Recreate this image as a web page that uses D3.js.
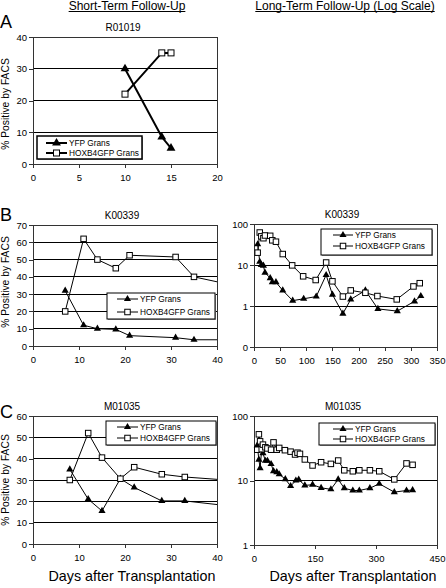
<!DOCTYPE html>
<html><head><meta charset="utf-8">
<script src="https://cdn.jsdelivr.net/npm/d3@7"></script>
<style>body{margin:0;background:#fff}svg{display:block}text{font-family:"Liberation Sans",Arial,sans-serif;font-style:normal;fill:#000}</style>
</head><body>
<svg id="c" width="446" height="588"></svg>
<script>
// ---- Data ----
const headers = ["Short-Term Follow-Up", "Long-Term Follow-Up (Log Scale)"];
const panelLetters = ["A", "B", "C"];
const animals = ["R01019", "K00339", "M01035"];
const seriesNames = ["YFP Grans", "HOXB4GFP Grans"];
const xAxisTitle = "Days after Transplantation";
const yAxisTitle = "% Positive by FACS";

// Panel A (short-term)
const aDays = [10, 14, 15];
const aYFP = [30, 8.5, 5];
const aHOX = [22, 35, 35];

// Panel B short-term
const bDays = [7, 11, 14, 18, 21, 31, 35, 42];
const bYFP = [32, 12, 10, 9.6, 6, 4.8, 3.6, 3.6];
const bHOX = [20, 62, 50, 45, 52.5, 51.5, 40, 36];

// Panel B long-term
const bLDays = [7, 11, 14, 18, 21, 31, 35, 42, 55, 74, 95, 119, 138, 150, 170, 185, 213, 237, 274, 307, 319];
const bLYFP = [32, 12, 10, 9.6, 6.5, 4.8, 3.8, 3.8, 2.4, 1.35, 1.5, 1.7, 5.7, 1.9, 0.65, 1.45, 2.4, 0.85, 0.75, 1.3, 1.75];
const bLHOXDays = [7, 11, 14, 18, 21, 31, 35, 42, 55, 73, 94, 118, 138, 150, 170, 185, 213, 236, 273, 305, 317];
const bLHOX = [20, 62, 50, 45, 52.5, 51.5, 40, 37, 18.5, 9.8, 5.3, 4.3, 11.5, 4, 1.7, 2.4, 2.1, 1.75, 1.45, 3.0, 3.6];

// Panel C short-term
const cDays = [8, 12, 15, 19, 22, 28, 33, 42];
const cYFP = [35, 21, 15.5, 30.6, 26.5, 20.2, 20.2, 18];
const cHOX = [30, 52, 40.5, 30.6, 36, 32.7, 31.4, 30];

// Panel C long-term
const cLYDays = [8, 12, 15, 19, 22, 28, 33, 42, 48, 56, 62, 77, 90, 103, 110, 125, 144, 165, 189, 207, 222, 243, 259, 285, 308, 345, 375, 390];
const cLYFP = [35, 21, 15.5, 30.6, 26.5, 20.2, 20.2, 18, 14, 13.5, 12.5, 10.5, 8.2, 10, 10.3, 8.4, 8.6, 7.7, 7.3, 10.4, 7.6, 7.0, 7.0, 7.6, 8.9, 6.6, 7.0, 7.1];
const cLHDays = [8, 12, 15, 19, 22, 28, 33, 42, 48, 56, 62, 76, 90, 101, 107, 113, 125, 144, 165, 189, 207, 222, 243, 259, 285, 308, 345, 375, 390];
const cLHOX = [30, 52, 40.5, 30.6, 36, 32.7, 31.4, 30, 39, 30, 32, 29.5, 28, 25.3, 27, 25.9, 21.2, 17.1, 19.2, 18.1, 20.4, 14.4, 13.9, 14.4, 14.4, 13.9, 10.4, 18.4, 17.5];

// Ticks
const xTicksA = [0, 5, 10, 15, 20];
const xTicksShort = [0, 10, 20, 30, 40];
const yTicksA = [0, 10, 20, 30, 40];
const yTicksB = [0, 10, 20, 30, 40, 50, 60, 70];
const yTicksC = [0, 10, 20, 30, 40, 50, 60];
const xTicksBL = [0, 50, 100, 150, 200, 250, 300, 350];
const yTicksBL = [0.1, 1, 10, 100];
const xTicksCL = [0, 150, 300, 450];
const yTicksCL = [1, 10, 100];

const zip = (xs, ys) => xs.map((x, i) => [x, ys[i]]);
const FONT = "'Liberation Sans', Arial, sans-serif";

const svg = d3.select("#c");
let clipId = 0;

function panel(o) {
  const g = svg.append("g");
  const x = d3.scaleLinear().domain(o.xd).range([o.l, o.r]);
  const y = (o.log ? d3.scaleLog() : d3.scaleLinear()).domain(o.yd).range([o.b, o.t]);
  const id = "clip" + (clipId++);
  g.append("clipPath").attr("id", id).append("rect")
    .attr("x", o.l - 5).attr("y", o.t - 5).attr("width", o.r - o.l + 5).attr("height", o.b - o.t + 10);
  // gridlines
  g.append("g").selectAll("line").data(o.yt.slice(1)).join("line")
    .attr("x1", o.l).attr("x2", o.r).attr("y1", d => y(d)).attr("y2", d => y(d))
    .attr("stroke", "#000").attr("stroke-width", 1).attr("shape-rendering", "crispEdges");
  // frame
  g.append("rect").attr("x", o.l).attr("y", o.t).attr("width", o.r - o.l).attr("height", o.b - o.t)
    .attr("fill", "none").attr("stroke", "#333").attr("stroke-width", 1).attr("shape-rendering", "crispEdges");
  // axes
  const xa = d3.axisBottom(x).tickValues(o.xt).tickSize(4).tickSizeOuter(0).tickFormat(d3.format("d"));
  const ya = d3.axisLeft(y).tickValues(o.yt).tickSize(4).tickSizeOuter(0)
    .tickFormat(d => d < 1 ? "0" : d3.format("d")(d));
  const gx = g.append("g").attr("transform", `translate(0,${o.b})`).call(xa);
  const gy = g.append("g").attr("transform", `translate(${o.l},0)`).call(ya);
  [gx, gy].forEach(a => {
    a.select(".domain").attr("stroke", "#333").attr("shape-rendering", "crispEdges");
    a.selectAll(".tick line").attr("stroke", "#333").attr("shape-rendering", "crispEdges");
    a.selectAll("text").attr("font-size", 9.5).attr("font-family", FONT).attr("fill", "#000");
  });
  gx.selectAll("text").attr("dy", "1.05em");
  gy.selectAll("text").attr("x", -6);
  // title
  g.append("text").attr("x", o.tx).attr("y", o.t - 6).attr("text-anchor", "middle").attr("font-size", 10).text(o.title);
  // series
  const plot = g.append("g").attr("clip-path", `url(#${id})`);
  const line = d3.line().x(d => x(d[0])).y(d => y(d[1]));
  const lw = o.thick ? 2 : 1;
  const tri = d3.symbol(d3.symbolTriangle, o.thick ? 34 : 22);
  const sq = o.thick ? 6 : 5.5;
  plot.append("path").datum(o.s1).attr("d", line).attr("fill", "none").attr("stroke", "#000").attr("stroke-width", lw);
  plot.append("path").datum(o.s2).attr("d", line).attr("fill", "none").attr("stroke", "#000").attr("stroke-width", lw);
  plot.append("g").selectAll("path").data(o.s1).join("path")
    .attr("d", tri).attr("transform", d => `translate(${x(d[0])},${y(d[1])})`).attr("fill", "#000");
  plot.append("g").selectAll("rect").data(o.s2).join("rect")
    .attr("x", d => x(d[0]) - sq / 2).attr("y", d => y(d[1]) - sq / 2).attr("width", sq).attr("height", sq)
    .attr("fill", "#fff").attr("stroke", "#000").attr("stroke-width", 1);
  // legend
  const L = o.leg;
  const lg = g.append("g");
  lg.append("rect").attr("x", L.x + 1).attr("y", L.y + 1).attr("width", L.w).attr("height", L.h).attr("fill", "#999");
  lg.append("rect").attr("x", L.x).attr("y", L.y).attr("width", L.w).attr("height", L.h)
    .attr("fill", "#fff").attr("stroke", "#000").attr("stroke-width", o.thick ? 1.5 : 1);
  seriesNames.forEach((nm, i) => {
    const yy = L.y + L.r[i];
    lg.append("line").attr("x1", L.lx1).attr("x2", L.lx2).attr("y1", yy).attr("y2", yy).attr("stroke", "#000").attr("stroke-width", lw);
    const mx = (L.lx1 + L.lx2) / 2;
    if (i === 0) lg.append("path").attr("d", tri).attr("transform", `translate(${mx},${yy})`).attr("fill", "#000");
    else lg.append("rect").attr("x", mx - sq / 2).attr("y", yy - sq / 2).attr("width", sq).attr("height", sq).attr("fill", "#fff").attr("stroke", "#000");
    lg.append("text").attr("x", L.lx2 + 2).attr("y", yy + 3).attr("font-size", 8.3).text(nm);
  });
}

// headers
[[127, headers[0]], [345, headers[1]]].forEach(([cx, t]) => {
  const tx = svg.append("text").attr("x", cx).attr("y", 9.5).attr("text-anchor", "middle").attr("font-size", 12).attr("font-style", "normal").text(t);
  const w = tx.node().getComputedTextLength();
  svg.append("line").attr("x1", cx - w / 2).attr("x2", cx + w / 2).attr("y1", 11.5).attr("y2", 11.5).attr("stroke", "#000").attr("stroke-width", 1);
});

// panel letters
[[28, 0], [221, 1], [418, 2]].forEach(([yy, i]) =>
  svg.append("text").attr("x", 0).attr("y", yy).attr("font-size", 18).text(panelLetters[i]));

// y-axis titles
[104, 282, 480].forEach(cy =>
  svg.append("text").attr("transform", `translate(9,${cy}) rotate(-90)`).attr("text-anchor", "middle").attr("font-size", 10.3).text(yAxisTitle));

// x-axis titles
[132, 353].forEach(cx =>
  svg.append("text").attr("x", cx).attr("y", 581).attr("text-anchor", "middle").attr("font-size", 14.3).text(xAxisTitle));

panel({l: 33, r: 217, t: 37, b: 164, xd: [0, 20], yd: [0, 40], xt: xTicksA, yt: yTicksA, title: animals[0], tx: 123, thick: true,
  s1: zip(aDays, aYFP), s2: zip(aDays, aHOX),
  leg: {x: 37, y: 136, w: 105, h: 23, r: [7, 17], lx1: 46, lx2: 67}});

panel({l: 33, r: 217, t: 225, b: 346, xd: [0, 40], yd: [0, 70], xt: xTicksShort, yt: yTicksB, title: animals[1], tx: 122,
  s1: zip(bDays, bYFP), s2: zip(bDays, bHOX),
  leg: {x: 107, y: 293, w: 108, h: 26, r: [6, 19], lx1: 117, lx2: 138}});

panel({l: 254, r: 437, t: 224, b: 347, xd: [0, 350], yd: [0.1, 100], log: true, xt: xTicksBL, yt: yTicksBL, title: animals[1], tx: 342,
  s1: zip(bLDays, bLYFP), s2: zip(bLHOXDays, bLHOX),
  leg: {x: 321, y: 229, w: 111, h: 26, r: [6, 17], lx1: 333, lx2: 353}});

panel({l: 33, r: 217, t: 416, b: 544, xd: [0, 40], yd: [0, 60], xt: xTicksShort, yt: yTicksC, title: animals[2], tx: 122,
  s1: zip(cDays, cYFP), s2: zip(cDays, cHOX),
  leg: {x: 106, y: 421, w: 110, h: 24, r: [6, 17], lx1: 117, lx2: 138}});

panel({l: 254, r: 437, t: 416, b: 545, xd: [0, 450], yd: [1, 100], log: true, xt: xTicksCL, yt: yTicksCL, title: animals[2], tx: 343,
  s1: zip(cLYDays, cLYFP), s2: zip(cLHDays, cLHOX),
  leg: {x: 319, y: 423, w: 116, h: 22, r: [6, 16], lx1: 333, lx2: 353}});
</script>
</body></html>
